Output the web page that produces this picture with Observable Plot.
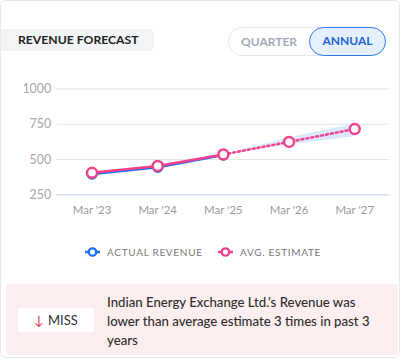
<!DOCTYPE html>
<html><head><meta charset="utf-8">
<script src="https://cdn.jsdelivr.net/npm/d3@7"></script>
<script src="https://cdn.jsdelivr.net/npm/@observablehq/plot@0.6"></script>
<style>
html,body{margin:0;padding:0;background:#fff;font-family:Lato,"Open Sans",sans-serif;}
#card{position:absolute;left:0;top:0;width:398px;height:356px;border:1px solid #e6e9ee;border-radius:5px;background:#fff;overflow:hidden;}
#title{position:absolute;left:0;top:28px;width:153px;height:22px;background:#f3f4f6;border-radius:0 4px 4px 0;font-weight:700;font-size:12.2px;color:#222;line-height:22px;padding-left:17px;box-sizing:border-box;}
#toggle{position:absolute;left:227px;top:26px;width:157px;height:29px;border:1px solid #e6e8ec;border-radius:15px;box-sizing:border-box;}
#q{position:absolute;left:12px;top:0;line-height:27px;font-weight:700;font-size:12px;color:#a4abb8;}
#a{position:absolute;left:80px;top:-1px;width:77px;height:29px;box-sizing:border-box;border:1.5px solid #2f7bf0;background:#e5effd;border-radius:15px;text-align:center;line-height:26px;font-weight:700;font-size:12px;color:#1f63d6;}
#chart{position:absolute;left:0;top:70px;}
#legend{position:absolute;top:243px;left:0;width:400px;font-size:10px;color:#7a7a7a;letter-spacing:0.7px;}
.li{position:absolute;top:0;display:flex;align-items:center;height:16px;}
.li svg{margin-right:7px;}
#miss{position:absolute;left:5px;top:283px;width:392px;height:71px;background:#fdefef;border-radius:3px;}
#pill{position:absolute;left:12px;top:24px;width:76px;height:24px;background:#fff;border-radius:4px;text-align:center;line-height:24px;font-size:13px;color:#333;}
#pill span{color:#e53947;margin-right:4px;}
#msg{position:absolute;left:101px;top:9px;width:266px;font-size:13.2px;line-height:19px;color:#2e2e2e;font-weight:500;}
</style></head>
<body>
<div id="card">
  <div id="title">REVENUE FORECAST</div>
  <div id="toggle"><div id="q">QUARTER</div><div id="a">ANNUAL</div></div>
  <div id="chart"></div>
  <div id="legend"></div>
  <div id="miss"><div id="pill"><span>↓</span>MISS</div>
  <div id="msg">Indian Energy Exchange Ltd.'s Revenue was<br>lower than average estimate 3 times in past 3 years</div></div>
</div>
<script>
const periods = ["Mar '23","Mar '24","Mar '25","Mar '26","Mar '27"];
const actualRevenue = [398, 446, 532];
const avgEstimate = [406, 455, 536, 625, 716];
const estimateLow = [null, null, 536, 603, 662];
const estimateHigh = [null, null, 536, 652, 752];
const yTicks = [250, 500, 750, 1000];
const seriesNames = ["ACTUAL REVENUE", "AVG. ESTIMATE"];
const blue = "#1f6ff2", pink = "#f5408c";

const actual = actualRevenue.map((v,i)=>({x:periods[i], y:v}));
const est = avgEstimate.map((v,i)=>({x:periods[i], y:v}));
const band = periods.map((p,i)=>({x:p, lo:estimateLow[i], hi:estimateHigh[i]})).filter(d=>d.lo!=null);
const estSolid = est.slice(0,3), estDotted = est.slice(2);

const chart = Plot.plot({
  width: 400, height: 150,
  marginLeft: 56, marginRight: 10, marginTop: 17.5, marginBottom: 26,
  style: {fontFamily: "Lato, sans-serif", background: "transparent"},
  x: {type: "point", domain: periods, padding: 0.5, label: null},
  y: {domain: [250, 1000], label: null},
  marks: [
    Plot.gridY(yTicks.slice(1), {stroke: "#e4e4e4", strokeOpacity: 1}),
    Plot.ruleY([250], {stroke: "#c6d7ee", strokeWidth: 1.2}),
    Plot.areaY(band, {x: "x", y1: "lo", y2: "hi", fill: "#dbe7fc", fillOpacity: 1, curve: "linear"}),
    Plot.axisY(yTicks, {tickSize: 0, tickPadding: 6, fontSize: 12.5, fill: "#a8a8a8", label: null, tickFormat: d => String(d)}),
    Plot.axisX({tickSize: 0, tickPadding: 11, fontSize: 11.5, fill: "#9a9a9a", label: null}),
    Plot.line(actual, {x: "x", y: "y", stroke: blue, strokeWidth: 2.5}),
    Plot.dot(actual, {x: "x", y: "y", r: 4.5, fill: "#fff", stroke: blue, strokeWidth: 2.5}),
    Plot.line(estSolid, {x: "x", y: "y", stroke: pink, strokeWidth: 2.5}),
    Plot.line(estDotted, {x: "x", y: "y", stroke: pink, strokeWidth: 2.5, strokeDasharray: "2,3"}),
    Plot.dot(est, {x: "x", y: "y", r: 5, fill: "#fff", stroke: pink, strokeWidth: 2.5})
  ]
});
document.getElementById("chart").appendChild(chart);

const legend = document.getElementById("legend");
[[seriesNames[0], blue, 84], [seriesNames[1], pink, 217]].forEach(([name, c, left]) => {
  const d = document.createElement("div");
  d.className = "li"; d.style.left = left + "px";
  d.innerHTML = `<svg width="15" height="12"><line x1="0" y1="6" x2="15" y2="6" stroke="${c}" stroke-width="2.5"/><circle cx="7.5" cy="6" r="3.7" fill="#fff" stroke="${c}" stroke-width="2.3"/></svg>${name}`;
  legend.appendChild(d);
});
</script>
</body></html>
